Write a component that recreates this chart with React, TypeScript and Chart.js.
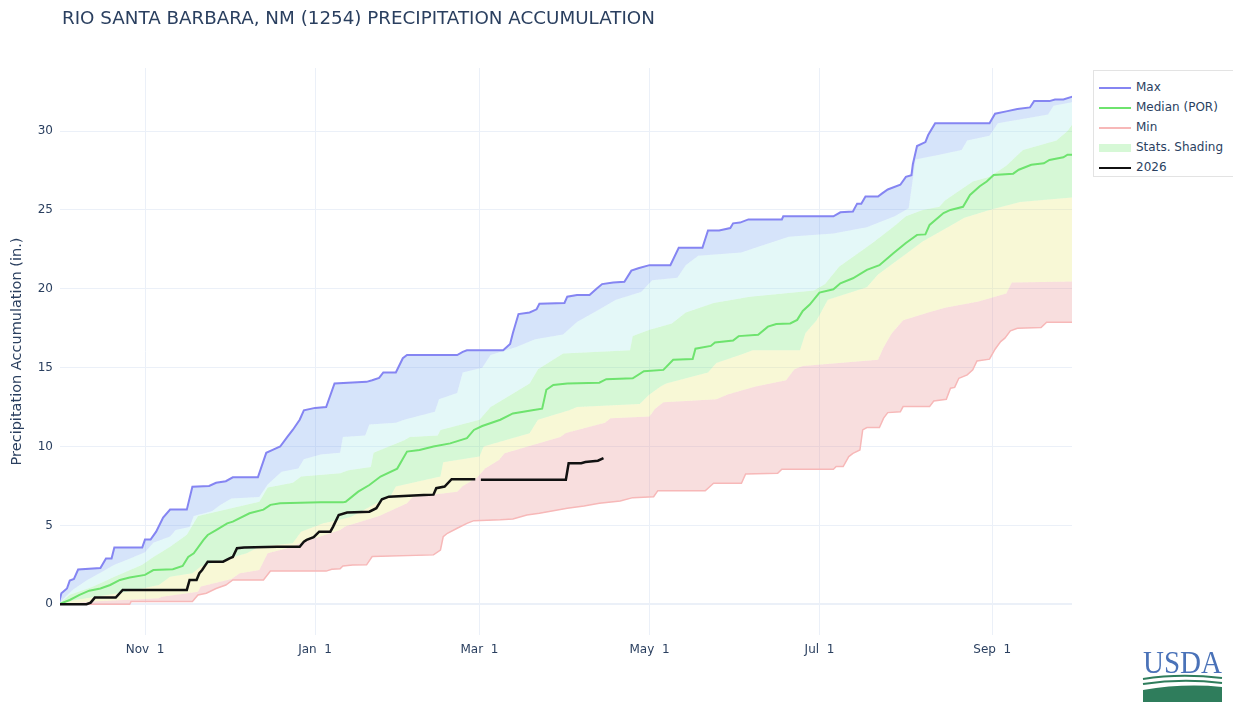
import { useEffect, useRef } from "react";
import { Chart, registerables } from "chart.js";
Chart.register(...registerables);

// Water-year day index (0 = Oct 1)
const tickDays = [31, 92, 151, 212, 273, 335];
const tickLabels = ["Nov  1", "Jan  1", "Mar  1", "May  1", "Jul  1", "Sep  1"];
const yTicks = [0, 5, 10, 15, 20, 25, 30];

const maxPts: [number, number][] = [[0,0],[1,0.7],[3,1.0],[4,1.5],[5.5,1.6],[7,2.2],[15,2.3],[17,2.9],[19,2.9],[20,3.6],[30,3.6],[31,4.1],[33,4.1],[35,4.6],[37.5,5.5],[40,6.0],[46,6.0],[48,7.45],[54,7.5],[56.5,7.7],[60,7.8],[62.5,8.05],[71.5,8.05],[74.5,9.6],[77,9.8],[79.5,10.0],[82,10.6],[84,11.05],[86.5,11.7],[88,12.3],[92,12.45],[96,12.5],[99,14.0],[110.5,14.1],[112.5,14.2],[115,14.35],[116.5,14.7],[121,14.7],[123.5,15.6],[125,15.8],[143,15.8],[145,16.0],[146.5,16.1],[159.5,16.1],[162,16.5],[163,17.2],[165,18.4],[169,18.5],[171.5,18.7],[172.5,19.05],[181.5,19.1],[182.5,19.5],[186,19.6],[190.5,19.6],[193,20.0],[195,20.3],[199,20.4],[203,20.45],[205.5,21.15],[208,21.3],[212,21.5],[219.5,21.5],[222.5,22.6],[231,22.6],[233,23.7],[237,23.7],[241,23.85],[242,24.15],[244.5,24.2],[247.5,24.4],[259.5,24.4],[260,24.6],[278,24.6],[280.5,24.85],[285,24.9],[286.5,25.4],[288,25.4],[289.5,25.85],[294,25.85],[295.5,26.05],[297.5,26.3],[302,26.6],[304,27.1],[306,27.2],[306.5,27.9],[308,29.05],[311,29.3],[312,29.75],[314.5,30.5],[334,30.5],[336,31.1],[340,31.25],[344,31.4],[348.5,31.5],[350,31.9],[355.5,31.9],[357.5,32.0],[360.5,32.0],[364,32.2]];

const p90Pts: [number, number][] = [[0,0],[2,0.4],[5,0.9],[10,1.5],[15,2.0],[20,2.5],[25,2.85],[31,3.3],[34,3.9],[40,4.3],[42,4.7],[47,4.9],[48.5,5.6],[55,5.9],[58,6.3],[62,6.7],[72,6.8],[75,7.6],[80,8.4],[86,8.6],[88,9.2],[94,9.5],[101,9.6],[102,10.6],[110,10.7],[111.5,11.4],[121,11.5],[124,11.7],[135,12.2],[136.5,13.0],[143,13.4],[145,14.7],[152,15.0],[155,15.8],[164,16.3],[171,16.8],[181,17.1],[186,17.9],[193,18.6],[200,19.3],[209,19.8],[213,20.55],[222,20.7],[225,21.5],[229.5,22.1],[245,22.3],[250,22.6],[262,23.3],[278,23.5],[290,23.9],[300,24.6],[305,25.1],[307.5,28.2],[316,28.5],[324,28.8],[326,29.4],[334,29.7],[337,30.5],[350,30.9],[355,31.05],[357,31.6],[364,31.85]];

const p70Pts: [number, number][] = [[0,0],[4,0.6],[12,1.1],[20,1.75],[30,2.5],[34,3.0],[40,3.65],[46,4.4],[50,5.6],[60,6.0],[72,6.5],[75,7.4],[84,7.7],[87,8.1],[101,8.3],[104,8.5],[112,8.7],[113,9.6],[124,10.4],[126,10.6],[136,10.7],[137,11.05],[151,11.7],[155,12.5],[169,14.0],[172,14.9],[181,15.9],[205,16.1],[206,17.0],[212,17.4],[220,17.8],[225,18.5],[235,19.1],[248,19.5],[271,19.9],[275,20.3],[280,21.4],[292,22.9],[300,24.0],[304,24.6],[310,25.0],[316,25.2],[318,25.6],[328,26.8],[334,27.1],[340,27.8],[346,28.8],[358,29.4],[362,30.0],[364,30.5]];

const medianPts: [number, number][] = [[0,0],[4,0.27],[7.5,0.6],[11,0.86],[15,1.0],[18.5,1.22],[22,1.54],[25.5,1.7],[31,1.86],[34,2.17],[41,2.22],[44.5,2.43],[46.5,3.0],[48.5,3.23],[52,4.08],[53.5,4.39],[56.5,4.7],[60.5,5.13],[62.5,5.24],[68.5,5.77],[73.5,6.0],[76,6.3],[79.5,6.4],[94,6.46],[102,6.46],[103,6.5],[107.5,7.14],[111.5,7.56],[115.5,8.1],[121.5,8.6],[125,9.68],[129.5,9.78],[134.5,10.0],[140.5,10.2],[146.5,10.53],[149,11.05],[152,11.3],[158.5,11.7],[163,12.1],[170.5,12.32],[173.5,12.4],[175,13.6],[177.5,13.9],[182.5,14.0],[194,14.05],[196.5,14.27],[206,14.33],[210,14.78],[217,14.86],[220.5,15.5],[227.5,15.55],[228.5,16.2],[234,16.38],[235.5,16.6],[242,16.72],[244,17.0],[251,17.08],[254.5,17.6],[257.5,17.77],[262.5,17.8],[265,18.03],[267,18.6],[269.5,19.0],[273,19.76],[278,19.97],[280.5,20.35],[285,20.67],[290,21.2],[294.5,21.5],[299.5,22.26],[304,22.9],[308,23.42],[311,23.45],[312.5,24.05],[317.5,24.8],[320,25.0],[324.5,25.2],[327,25.95],[330.5,26.5],[333,26.8],[335.5,27.22],[342.5,27.3],[344.5,27.55],[349,27.86],[353.5,27.96],[355.5,28.17],[360.5,28.34],[362,28.5],[364,28.5]];

const p30Pts: [number, number][] = [[0,0],[6,0.27],[18,0.6],[24.5,0.8],[36,1.22],[40,1.75],[48,1.97],[51,2.4],[67.5,3.23],[72,3.65],[84,3.87],[87,4.6],[95,5.13],[101,5.35],[105,5.55],[115,6.5],[119,6.82],[121,7.46],[137,8.1],[138,9.0],[151,9.36],[152.5,10.0],[169,10.84],[172,11.69],[183.5,12.32],[186,12.5],[208.5,12.7],[212,13.3],[216,13.8],[218,14.0],[233,14.7],[236,15.3],[246,15.9],[249,16.1],[266,16.1],[268,17.2],[272,18.0],[276,19.3],[290,20.1],[294,20.9],[304,22.2],[310,23.0],[320,24.0],[325,24.5],[334,25.0],[345,25.5],[364,25.8]];

const p10Pts: [number, number][] = [[0,0],[12,0.17],[36,0.38],[37,0.48],[50,0.8],[51,1.12],[62,1.6],[65,1.97],[72,2.17],[75,3.23],[84,3.65],[87,3.9],[101,4.7],[103,4.95],[115,5.6],[125,6.4],[127,6.8],[143,7.14],[145,7.5],[150,8.0],[153,8.6],[158,9.15],[160,9.57],[180,10.6],[182,10.85],[196,11.5],[198,11.8],[212,11.9],[214,12.4],[217,12.8],[236,13.0],[240,13.3],[250,13.8],[261,14.2],[264,14.9],[267,15.1],[294,15.5],[296,16.3],[299,17.2],[303,18.0],[312,18.5],[318,18.8],[330,19.2],[340,19.7],[342,20.4],[364,20.46]];

const minPts: [number, number][] = [[0,0],[25.5,0],[26,0.17],[48,0.17],[50,0.59],[53,0.7],[56.5,1.0],[60,1.22],[62.5,1.54],[73.5,1.54],[76,2.1],[96,2.1],[98,2.22],[101,2.25],[102,2.43],[105.5,2.49],[110.5,2.5],[112.5,3.02],[134.5,3.13],[137,3.44],[138,4.29],[139.5,4.5],[143,4.82],[146.5,5.13],[149,5.3],[158.5,5.35],[163,5.4],[168,5.66],[172.5,5.77],[182.5,6.09],[188.5,6.23],[194,6.4],[201.5,6.55],[206,6.76],[213.5,6.82],[215,7.2],[232,7.2],[235,7.67],[245,7.67],[246.5,8.26],[258,8.3],[259.5,8.56],[278,8.56],[279,8.73],[281.5,8.73],[283.5,9.36],[285,9.57],[287.5,9.78],[288.5,11.05],[290,11.2],[294.5,11.2],[296,11.8],[297.5,12.15],[302,12.2],[303,12.53],[312.5,12.53],[314,12.89],[318.5,13.0],[320,13.7],[321.5,13.75],[323,14.33],[326,14.54],[328,14.86],[329.5,15.43],[334,15.54],[336,16.17],[338,16.65],[339.5,16.87],[341.5,17.33],[344,17.5],[352.5,17.55],[354.5,17.88],[364,17.88]];

const wy2026Pts: [number, number | null][] = [[0,0],[10,0],[11.5,0.1],[13,0.42],[20.5,0.42],[23,0.91],[46,0.91],[47,1.54],[49.5,1.54],[50.5,1.97],[51.5,2.17],[53.5,2.7],[59,2.7],[61.5,2.92],[62.5,3.0],[64,3.55],[66.5,3.6],[78.5,3.65],[86.5,3.65],[88,3.97],[89,4.08],[91.5,4.25],[93.5,4.6],[97.5,4.6],[98.5,4.92],[100.5,5.66],[103.5,5.81],[111.5,5.87],[114,6.09],[116,6.66],[118.5,6.82],[131,6.93],[134.5,6.95],[135.5,7.36],[138.5,7.46],[141,7.93],[149.5,7.93],[150.5,null],[151.5,7.9],[182,7.9],[183,8.94],[187.5,8.94],[189,9.02],[193.5,9.1],[195.5,9.26]];

const FONT = "'DejaVu Sans', Verdana, sans-serif";
const TEXT = "#2a3f5f";
const GRID = "#ebf0f8";
const MAX_C = "#8585f2";
const MED_C = "#6ee36e";
const MIN_C = "#f7b8b8";
const BAND_BLUE = "rgba(118,165,238,0.3)";
const BAND_CYAN = "rgba(165,232,232,0.3)";
const BAND_GREEN = "rgba(118,232,118,0.3)";
const BAND_YELLOW = "rgba(232,232,118,0.3)";
const BAND_RED = "rgba(232,145,145,0.3)";
const CLEAR = "rgba(0,0,0,0)";

const toXY = (pts: [number, number | null][]) => pts.map(([x, y]) => ({ x, y }));

const legendItems = [
  { label: "Max", color: MAX_C, kind: "line" },
  { label: "Median (POR)", color: MED_C, kind: "line" },
  { label: "Min", color: MIN_C, kind: "line" },
  { label: "Stats. Shading", color: "#d6f8d6", kind: "box" },
  { label: "2026", color: "#111111", kind: "line" },
];

export default function App() {
  const ref = useRef<HTMLCanvasElement | null>(null);

  useEffect(() => {
    if (!ref.current) return;
    Chart.defaults.font.family = FONT;
    Chart.defaults.color = TEXT;
    const common = { pointRadius: 0, pointHoverRadius: 0, tension: 0 };
    const chart = new Chart(ref.current, {
      type: "line",
      data: {
        datasets: [
          { ...common, label: "Max", data: toXY(maxPts), borderColor: MAX_C, borderWidth: 2, backgroundColor: BAND_BLUE, fill: 1, order: 1 },
          { ...common, label: "90%", data: toXY(p90Pts), borderColor: CLEAR, borderWidth: 0, backgroundColor: BAND_CYAN, fill: 2, order: 5 },
          { ...common, label: "70%", data: toXY(p70Pts), borderColor: CLEAR, borderWidth: 0, backgroundColor: BAND_GREEN, fill: 4, order: 6 },
          { ...common, label: "Median (POR)", data: toXY(medianPts), borderColor: MED_C, borderWidth: 2, fill: false, order: 2 },
          { ...common, label: "30%", data: toXY(p30Pts), borderColor: CLEAR, borderWidth: 0, backgroundColor: BAND_YELLOW, fill: 5, order: 7 },
          { ...common, label: "10%", data: toXY(p10Pts), borderColor: CLEAR, borderWidth: 0, backgroundColor: BAND_RED, fill: 6, order: 8 },
          { ...common, label: "Min", data: toXY(minPts), borderColor: MIN_C, borderWidth: 1.5, fill: false, order: 3 },
          { ...common, label: "2026", data: toXY(wy2026Pts), borderColor: "#111111", borderWidth: 2.5, fill: false, spanGaps: false, order: 0 },
        ] as any,
      },
      options: {
        animation: false,
        responsive: false,
        devicePixelRatio: 1,
        events: [],
        layout: { padding: { left: 0, right: 161, top: 68, bottom: 0 } },
        plugins: { legend: { display: false }, tooltip: { enabled: false }, title: { display: false } },
        scales: {
          x: {
            type: "linear",
            min: 0.5,
            max: 363.6,
            afterBuildTicks: (s: any) => { s.ticks = tickDays.map((v) => ({ value: v })); },
            afterFit: (s: any) => { s.height = 67; },
            ticks: {
              autoSkip: false,
              maxRotation: 0,
              padding: 8,
              color: TEXT,
              font: { size: 12, family: FONT },
              callback: (v: any) => tickLabels[tickDays.indexOf(Number(v))] ?? "",
            },
            grid: { color: GRID, lineWidth: 1, drawTicks: false },
            border: { display: false },
          },
          y: {
            type: "linear",
            min: -1.95,
            max: 34,
            afterBuildTicks: (s: any) => { s.ticks = yTicks.map((v) => ({ value: v })); },
            afterFit: (s: any) => { s.width = 60; },
            ticks: { padding: 7, color: TEXT, font: { size: 12, family: FONT } },
            grid: {
              color: GRID,
              drawTicks: false,
              lineWidth: (ctx: any) => (ctx.tick && ctx.tick.value === 0 ? 2 : 1),
            },
            border: { display: false },
            title: {
              display: true,
              text: "Precipitation Accumulation (in.)",
              color: TEXT,
              font: { size: 14.5, family: FONT },
              padding: { top: 9, bottom: 0 },
            },
          },
        },
      } as any,
    });
    return () => chart.destroy();
  }, []);

  return (
    <div style={{ position: "fixed", left: 0, top: 0, width: 1233, height: 702, background: "#fff", overflow: "hidden", fontFamily: FONT }}>
      <canvas ref={ref} width={1233} height={702} style={{ position: "absolute", left: 0, top: 0, width: 1233, height: 702 }} />
      <div style={{ position: "absolute", left: 62, top: 8, fontSize: 18.3, lineHeight: "20px", color: TEXT, whiteSpace: "nowrap" }}>
        RIO SANTA BARBARA, NM (1254) PRECIPITATION ACCUMULATION
      </div>
      <div style={{ position: "absolute", left: 1093, top: 70, width: 145, height: 107, border: "1px solid #e3e3e3", background: "#fff", boxSizing: "border-box" }}>
        {legendItems.map((it, i) => (
          <div key={it.label} style={{ position: "absolute", left: 0, top: 7 + i * 20, height: 20, width: 145 }}>
            <div style={{ position: "absolute", left: 5, width: 32, top: it.kind === "box" ? 6 : 9, height: it.kind === "box" ? 8 : 2, background: it.color }} />
            <div style={{ position: "absolute", left: 42, top: 2, fontSize: 12, lineHeight: "14px", color: TEXT, whiteSpace: "nowrap" }}>{it.label}</div>
          </div>
        ))}
      </div>
      <svg style={{ position: "absolute", left: 1136, top: 646 }} width={97} height={56} viewBox="0 0 97 56">
        <text x={7} y={27} fontFamily="'Liberation Serif', 'DejaVu Serif', serif" fontSize={32} fill="#4a72b8" textLength={79} lengthAdjust="spacingAndGlyphs">USDA</text>
        <path d="M7,33 Q44,27 86,32" stroke="#2f7d5c" strokeWidth={2} fill="none" />
        <path d="M7,38 Q46,32 86,37" stroke="#2f7d5c" strokeWidth={2} fill="none" />
        <path d="M7,56 L7,44 Q48,37 86,41 L86,56 Z" fill="#2f7d5c" />
      </svg>
    </div>
  );
}
